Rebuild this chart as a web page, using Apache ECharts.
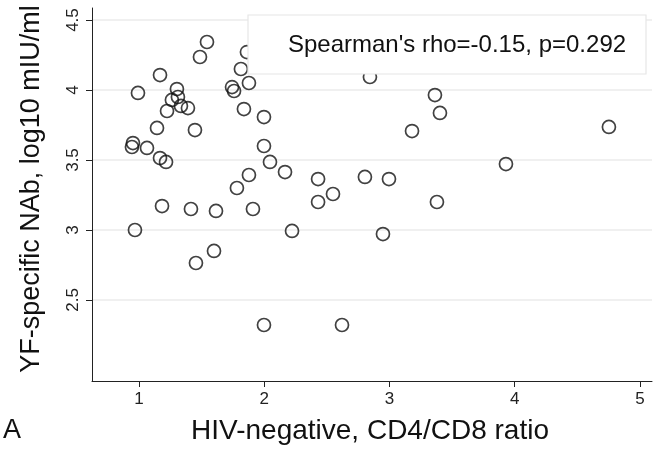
<!DOCTYPE html>
<html>
<head>
<meta charset="utf-8">
<script src="https://cdn.jsdelivr.net/npm/echarts@6/dist/echarts.min.js"></script>
<style>
    html, body { margin: 0; padding: 0; background: #fff; }
    #chart { width: 664px; height: 456px; }
</style>
</head>
<body>
<div id="chart"></div>
<script>
// CD4/CD8 ratio (x) and YF-specific NAb log10 mIU/ml (y)
var ratio = [
    1.543, 1.487, 1.168, 1.814, 1.862, 0.992, 1.303, 1.263, 1.311, 1.335,
    1.391, 1.224, 1.743, 1.759, 1.878, 1.838, 1.998, 1.144, 1.447, 0.952,
    0.944, 1.064, 1.168, 1.216, 1.998, 2.046, 1.878, 1.782, 1.184, 1.415,
    1.615, 1.910, 0.968, 1.599, 1.455, 1.998, 2.844, 3.363, 3.403, 3.180,
    2.166, 2.430, 2.804, 2.996, 2.430, 2.549, 3.379, 2.222, 2.948, 2.621,
    4.752, 3.930
];
var nab = [
    4.343, 4.236, 4.107, 4.150, 4.271, 3.979, 4.007, 3.929, 3.950, 3.886,
    3.871, 3.850, 4.021, 3.993, 4.050, 3.864, 3.807, 3.729, 3.714, 3.621,
    3.593, 3.586, 3.514, 3.486, 3.600, 3.486, 3.393, 3.300, 3.171, 3.150,
    3.136, 3.150, 3.000, 2.850, 2.764, 2.321, 4.093, 3.964, 3.836, 3.707,
    3.414, 3.364, 3.379, 3.364, 3.200, 3.257, 3.200, 2.993, 2.971, 2.321,
    3.736, 3.471
];
var xTicks = [1, 2, 3, 4, 5];
var yTicks = [2.5, 3, 3.5, 4, 4.5];
var statText = "Spearman's rho=-0.15, p=0.292";

var points = [];
for (var i = 0; i < ratio.length; i++) {
    points.push([ratio[i], nab[i]]);
}

var font = '"Liberation Sans", Arial, Helvetica, sans-serif';
var chart = echarts.init(document.getElementById('chart'), null, { renderer: 'canvas' });

chart.setOption({
    animation: false,
    backgroundColor: '#fff',
    grid: { left: 92, right: 12, top: 8, bottom: 75, containLabel: false },
    xAxis: {
        type: 'value',
        min: 0.625,
        max: 5.096,
        axisLine: { show: true, lineStyle: { color: '#222', width: 1 } },
        axisTick: { show: true, length: 6, customValues: xTicks, lineStyle: { color: '#222' } },
        axisLabel: {
            customValues: xTicks,
            color: '#222', fontFamily: font, fontSize: 17, margin: 10
        },
        splitLine: { show: false }
    },
    yAxis: {
        type: 'value',
        min: 1.921,
        max: 4.586,
        axisLine: { show: true, lineStyle: { color: '#222', width: 1 } },
        axisTick: { show: true, length: 6, customValues: yTicks, lineStyle: { color: '#222' } },
        axisLabel: {
            customValues: yTicks,
            rotate: 90,
            color: '#222', fontFamily: font, fontSize: 17, margin: 10,
            formatter: function (v) { return String(v); }
        },
        splitLine: { show: true, lineStyle: { color: '#ebebeb', width: 1.5 } }
    },
    series: [{
        type: 'scatter',
        data: points,
        symbol: 'circle',
        symbolSize: 13,
        itemStyle: { color: 'rgba(255,255,255,0)', borderColor: '#111', borderWidth: 1.7 },
        z: 2
    }],
    graphic: [
        {
            type: 'rect',
            z: 100,
            shape: { x: 248, y: 15, width: 398, height: 59 },
            style: { fill: '#fff', stroke: '#e6e6e6', lineWidth: 1.2 }
        },
        {
            type: 'text',
            z: 101,
            x: 457, y: 45,
            style: {
                text: statText, fontFamily: font, fontSize: 24, fill: '#111',
                align: 'center', verticalAlign: 'middle'
            }
        },
        {
            type: 'text',
            z: 101,
            x: 32, y: 189,
            rotation: Math.PI / 2,
            style: {
                text: 'YF-specific NAb, log10 mIU/ml', fontFamily: font, fontSize: 27, fill: '#111',
                align: 'center', verticalAlign: 'middle'
            }
        },
        {
            type: 'text',
            z: 101,
            x: 370, y: 431,
            style: {
                text: 'HIV-negative, CD4/CD8 ratio', fontFamily: font, fontSize: 28, fill: '#111',
                align: 'center', verticalAlign: 'middle'
            }
        },
        {
            type: 'text',
            z: 101,
            x: 3, y: 431,
            style: {
                text: 'A', fontFamily: font, fontSize: 27, fill: '#111',
                align: 'left', verticalAlign: 'middle'
            }
        }
    ]
});

window.addEventListener('resize', function () {
    setTimeout(chart.resize, 0);
});
</script>
</body>
</html>
